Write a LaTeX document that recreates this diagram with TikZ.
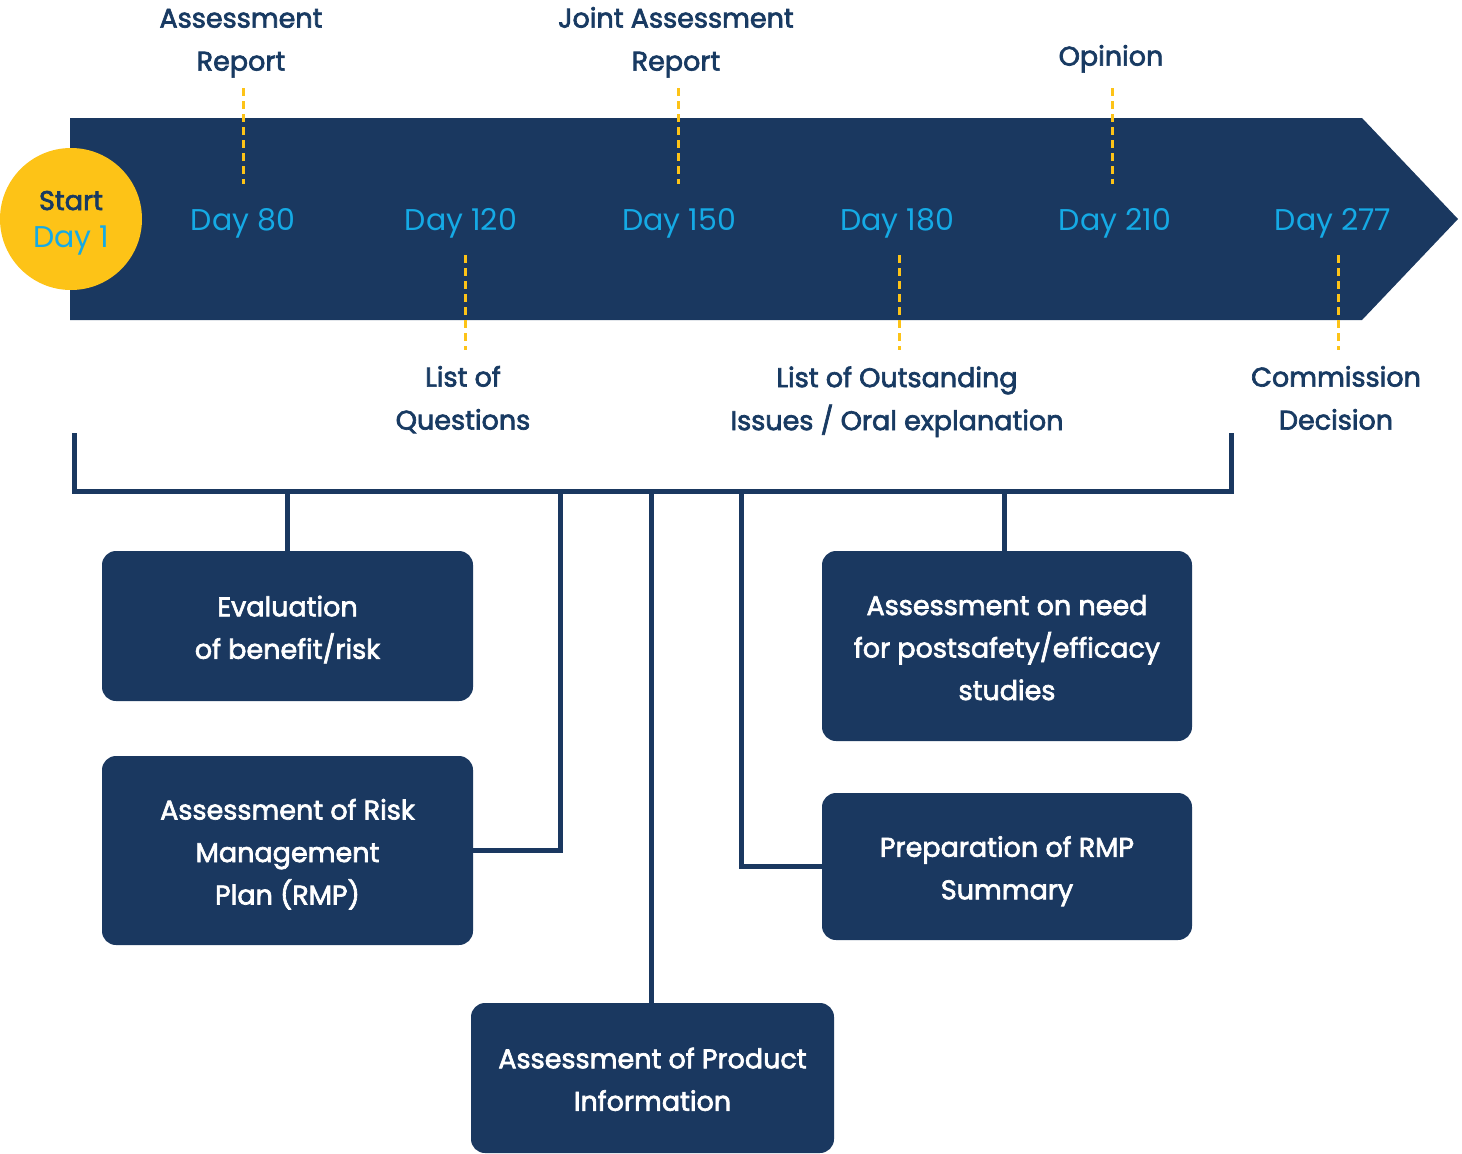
\documentclass[tikz,border=0pt]{standalone}
\usepackage{fontspec}
\setmainfont{Poppins}
\newfontfamily\medfont{Poppins}[FakeBold=2.5]
\definecolor{navy}{HTML}{1A3860}
\definecolor{ink}{HTML}{183A62}
\definecolor{gold}{HTML}{FDC317}
\definecolor{sky}{HTML}{15AAE5}
\tikzset{
  box/.style={fill=navy, rounded corners=14pt, inner sep=0pt},
  boxtext/.style={text=white, inner sep=0pt, yshift=-3pt,
    font=\medfont\fontsize{27}{42.5}\selectfont, align=center},
  lbl/.style={text=ink, inner sep=0pt, font=\medfont\fontsize{27}{43}\selectfont, align=center},
  day/.style={text=sky, inner sep=0pt, anchor=base, font=\fontsize{30}{36}\selectfont},
  tick/.style={gold, line width=3pt, dash pattern=on 8pt off 5pt},
  bar/.style={navy, line width=5pt},
}
\begin{document}
\begin{tikzpicture}[x=1pt,y=-1pt]
\useasboundingbox (0,0) rectangle (1462,1154);

% timeline band
\fill[navy] (70,118) -- (1362,118) -- (1458,219) -- (1362,320) -- (70,320) -- cycle;

% start marker
\node[circle, fill=gold, minimum size=142pt, inner sep=0pt] (start) at (71,219) {};
\node[anchor=base, inner sep=0pt, text=ink, font=\medfont\fontsize{27}{32}\selectfont] (starttxt) at (71,210) {Start};
\node[day] (d1) at (71,247) {Day 1};

% day markers
\node[day] (d80)  at (243,230.5) {Day 80};
\node[day] (d120) at (461,230.5) {Day 120};
\node[day] (d150) at (679,230.5) {Day 150};
\node[day] (d180) at (897,230.5) {Day 180};
\node[day] (d210) at (1115,230.5) {Day 210};
\node[day] (d277) at (1333,230.5) {Day 277};

% milestone labels
\node[lbl] (ar)  at (241,40.5)  {\strut Assessment\\\strut Report};
\node[lbl] (jar) at (676,40.5)  {\strut Joint Assessment\\\strut Report};
\node[lbl] (op)  at (1111,57)   {\strut Opinion};
\node[lbl] (lq)  at (463,399.5) {\strut List of\\\strut Questions};
\node[lbl] (lo)  at (897,400)   {\strut List of Outsanding\\\strut Issues / Oral explanation};
\node[lbl] (cd)  at (1336,399.5){\strut Commission\\\strut Decision};

% dashed leaders
\coordinate (t1a) at (243,88);  \coordinate (t1b) at (243,184);
\coordinate (t2a) at (678,88);  \coordinate (t2b) at (678,184);
\coordinate (t3a) at (1112,88); \coordinate (t3b) at (1112,184);
\coordinate (u1a) at (465,255); \coordinate (u1b) at (465,350);
\coordinate (u2a) at (899,255); \coordinate (u2b) at (899,350);
\coordinate (u3a) at (1338,255);\coordinate (u3b) at (1338,350);
\draw[tick] (t1a) -- (t1b);
\draw[tick] (t2a) -- (t2b);
\draw[tick] (t3a) -- (t3b);
\draw[tick] (u1a) -- (u1b);
\draw[tick] (u2a) -- (u2b);
\draw[tick] (u3a) -- (u3b);

% activity boxes
\node[box, minimum width=371pt, minimum height=150pt] (b1) at (287.5,626) {};
\node[box, minimum width=371pt, minimum height=189pt] (b2) at (287.5,850.5) {};
\node[box, minimum width=370pt, minimum height=190pt] (b3) at (1007,646) {};
\node[box, minimum width=370pt, minimum height=147pt] (b4) at (1007,866.5) {};
\node[box, minimum width=363pt, minimum height=150pt] (b5) at (652.5,1078) {};
\node[boxtext] (b1t) at (b1.center) {\strut Evaluation\\\strut of benefit/risk};
\node[boxtext] (b2t) at (b2.center) {\strut Assessment of Risk\\\strut Management\\\strut Plan (RMP)};
\node[boxtext] (b3t) at (b3.center) {\strut Assessment on need\\\strut for postsafety/efficacy\\\strut studies};
\node[boxtext] (b4t) at (b4.center) {\strut Preparation of RMP\\\strut Summary};
\node[boxtext] (b5t) at (b5.center) {\strut Assessment of Product\\\strut Information};

% bracket
\coordinate (bl)  at (74,433);
\coordinate (blc) at (74,491);
\coordinate (brc) at (1231,491);
\coordinate (br)  at (1231,433);
\draw[bar] (bl) -- (blc) -- (brc) -- (br);

% branches to the boxes
\coordinate (j1) at (287,491);
\coordinate (j2) at (560,491);
\coordinate (j3) at (651,491);
\coordinate (j4) at (741,491);
\coordinate (j5) at (1004,491);
\draw[bar] (j1) -- (j1 |- b1.north);
\draw[bar] (j2) |- (b2.east);
\draw[bar] (j3) -- (j3 |- b5.north);
\draw[bar] (j4) |- (b4.west);
\draw[bar] (j5) -- (j5 |- b3.north);
\end{tikzpicture}
\end{document}
